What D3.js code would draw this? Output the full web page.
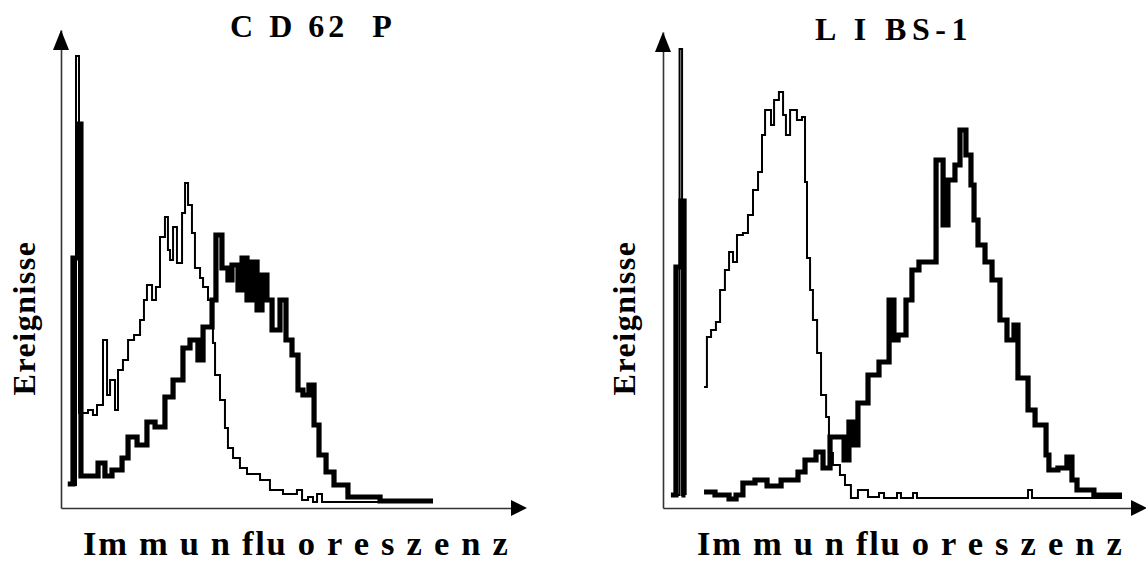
<!DOCTYPE html>
<html>
<head>
<meta charset="utf-8">
<script src="https://cdn.jsdelivr.net/npm/d3@7"></script>
<style>
  body { margin: 0; background: #fff; }
  svg { display: block; }
  text { font-family: "Liberation Serif", "Times New Roman", serif; font-weight: bold; fill: #000; }
</style>
</head>
<body>
<div id="chart"></div>
<script>
const panelTitles = ["C D 62  P", "L I BS-1"];
const yLabel = "Ereignisse";
const xLabel = "Im m u n flu o r e s z e n z";

// [channel, count], null = gap in the trace
const cd62pControl = [[6,11.5],[10,226],[12,47.5],[18,49],[21.3,46.5],[24,51.5],[28,84],[30.7,56.5],[32.7,64],[36,49],[38,69],[41.3,74],[44.7,84],[48.7,86.5],[52.7,94],[55.3,104],[57.3,111.5],[60.7,104],[63.3,110.5],[66,135.5],[69.3,145.5],[71.3,129],[72.7,124],[74.7,140.5],[77.3,122.5],[80.7,147.5],[82.7,162.5],[84.7,151.5],[87.3,137.5],[89.3,120],[92.7,115],[94.7,110.5],[98,104],[101.3,82.5],[102.7,66.5],[106,54],[109.3,40],[111.3,30],[114.7,25],[119.3,20],[124,17],[132.7,14],[139.3,9],[148,7],[157.3,9],[160.7,4],[164.7,5.5],[168,3],[170.7,7],[174,3],[246,3]];

const cd62pSample = [[4.5,12],[8,125],[11.3,192],[13.3,16],[19.3,16],[24.7,22.5],[29.3,16],[34,19],[40.7,25],[44.7,35.5],[50.7,31.5],[57.3,43],[62.7,40.5],[69.3,55.5],[74.7,64],[81.3,80],[86,84],[91.3,74],[94.7,90.5],[100.7,104],[103.3,136.5],[107.3,120],[111.3,114],[114,121.5],[118,109],[120.7,125],[124,104],[127.3,123],[130.7,99],[134,116.5],[137.3,104],[140.7,89],[146,104],[150,84],[154,76.5],[158,59],[161.3,56.5],[165.3,61.5],[168.7,41.5],[172,26.5],[176.7,18],[182,11.5],[191.3,5.5],[212.7,3.5],[248,3.5]];

const libsControl = [[7.8,6.5],[9.2,229.5],[10.6,6.5],[11.5,6.5],[11.5,null],[22.8,60.5],[24.4,85.5],[26.7,89],[29.4,93],[31.7,109],[34.4,119],[36.7,128],[38.9,123],[41.1,136.5],[44.4,137.5],[47.2,146.5],[50,159],[52.8,168],[55,186.5],[56.7,199],[60,191.5],[61.7,204],[64.4,208],[66.7,196.5],[68.3,186.5],[70.6,199],[74.4,194],[77.2,195.5],[78.9,163],[80,125],[81.7,109],[83.3,94],[85.6,77.5],[87.8,56.5],[90.6,45.5],[92.2,27.5],[94.4,21.5],[98.3,16.5],[101.1,11.5],[104.4,5],[108.3,9],[113.9,5.5],[120,7.5],[122.8,5],[130,7.5],[132.2,5],[138.9,7.5],[141.1,5],[202.8,9],[205,5],[255,5]];

const libsSample = [[4.4,6.5],[7.2,120.5],[10,153.5],[11.7,6.5],[12.5,6.5],[12.5,null],[22.8,8],[28.9,6.5],[36.7,4.5],[40.6,6.5],[44.4,12.5],[51.1,14],[57.8,11],[65.6,14],[75,18],[78.9,24],[85,28],[88.9,20],[92.8,35.5],[100.6,24],[103.3,43],[106.1,31.5],[108.3,52.5],[113.9,66.5],[120,73],[125.6,104],[128.3,84],[130.6,86.5],[135,104],[138.3,119],[142.2,123],[151.7,174],[155.6,141.5],[158.3,164],[162.2,171.5],[165,189],[168.3,176.5],[171.1,161.5],[172.8,144],[175,131.5],[178.9,123],[182.8,114],[187.2,94],[191.1,84],[195,91.5],[197.2,65],[202.8,49],[206.7,41.5],[212.8,26.5],[214.4,19],[219.4,20],[224.4,25.5],[227.2,14],[230,9],[239.4,6.5],[255,6.5]];

const width = 1146, height = 563;

const svg = d3.select("#chart").append("svg")
  .attr("width", width)
  .attr("height", height);

function drawPanel({ title, titleSpacing, control, sample, chMax, countMax, xRange, yRange, titleX, titleY, labelX, yLabelX }) {
  const x = d3.scaleLinear().domain([0, chMax]).range(xRange);
  const y = d3.scaleLinear().domain([0, countMax]).range(yRange);
  const g = svg.append("g");

  // bare axes, no ticks
  g.append("g")
    .attr("transform", `translate(0,${yRange[0]})`)
    .call(d3.axisBottom(x).tickValues([]).tickSizeOuter(0))
    .call(a => a.select(".domain").attr("stroke", "#333").attr("stroke-width", 1.6));
  g.append("g")
    .attr("transform", `translate(${xRange[0]},0)`)
    .call(d3.axisLeft(y).tickValues([]).tickSizeOuter(0))
    .call(a => a.select(".domain").attr("stroke", "#333").attr("stroke-width", 1.6));

  // arrow heads
  const [x0, x1] = xRange, [y0, y1] = yRange;
  g.append("path")
    .attr("d", `M${x1},${y0 - 8}L${x1 + 16},${y0}L${x1},${y0 + 8}Z`)
    .attr("fill", "#000");
  g.append("path")
    .attr("d", `M${x0 - 8},${y1 + 20}L${x0},${y1}L${x0 + 8},${y1 + 20}Z`)
    .attr("fill", "#000");

  const line = d3.line()
    .defined(d => d[1] != null)
    .x(d => x(d[0]))
    .y(d => y(d[1]))
    .curve(d3.curveStepAfter);

  g.append("path")
    .datum(sample)
    .attr("d", line)
    .attr("fill", "none")
    .attr("stroke", "#000")
    .attr("stroke-width", 5.2);
  g.append("path")
    .datum(control)
    .attr("d", line)
    .attr("fill", "none")
    .attr("stroke", "#000")
    .attr("stroke-width", 2);

  g.append("text")
    .attr("x", titleX).attr("y", titleY)
    .attr("text-anchor", "middle")
    .style("font-size", "32px")
    .style("letter-spacing", titleSpacing + "px")
    .style("white-space", "pre")
    .text(title);

  g.append("text")
    .attr("x", labelX).attr("y", 555)
    .style("font-size", "34.5px")
    .style("letter-spacing", "1.7px")
    .style("white-space", "pre")
    .text(xLabel);

  g.append("text")
    .attr("transform", `translate(${yLabelX},318) rotate(-90)`)
    .attr("text-anchor", "middle")
    .style("font-size", "32px")
    .style("letter-spacing", "1.5px")
    .text(yLabel);
}

drawPanel({
  title: panelTitles[0], titleSpacing: 4, control: cd62pControl, sample: cd62pSample,
  chMax: 300, countMax: 239, xRange: [61, 511], yRange: [508, 30],
  titleX: 313, titleY: 37, labelX: 83, yLabelX: 35
});
drawPanel({
  title: panelTitles[1], titleSpacing: 5.5, control: libsControl, sample: libsSample,
  chMax: 260, countMax: 238, xRange: [663, 1131], yRange: [508, 32],
  titleX: 894, titleY: 40, labelX: 697, yLabelX: 635
});
</script>
</body>
</html>
